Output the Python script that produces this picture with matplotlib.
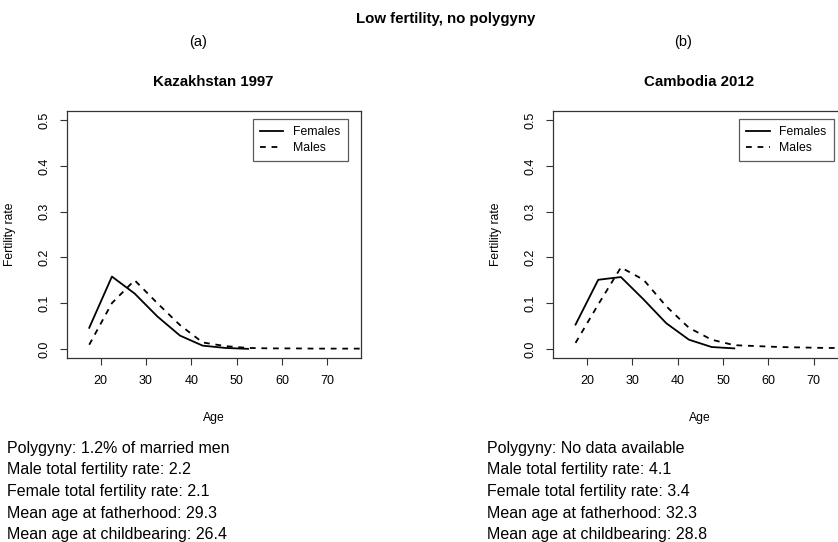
import matplotlib
matplotlib.use("Agg")
import matplotlib.pyplot as plt
from matplotlib.lines import Line2D

plt.rcParams["font.family"] = ["Liberation Sans", "DejaVu Sans"]

# age-group midpoints
ages = [17.5, 22.5, 27.5, 32.5, 37.5, 42.5, 47.5, 52.5, 57.5, 62.5, 67.5, 72.5, 77.5]

kaz_female = [0.046, 0.158, 0.121, 0.071, 0.029, 0.007, 0.002, 0.0]
kaz_male = [0.009, 0.100, 0.150, 0.100, 0.052, 0.014, 0.006, 0.002,
            0.001, 0.001, 0.0005, 0.0005, 0.0005]

cam_female = [0.053, 0.151, 0.157, 0.108, 0.056, 0.020, 0.004, 0.001]
cam_male = [0.013, 0.097, 0.178, 0.151, 0.093, 0.046, 0.020, 0.008,
            0.006, 0.004, 0.003, 0.002, 0.002]

titles = ["Kazakhstan 1997", "Cambodia 2012"]
labels = ["(a)", "(b)"]
stats = [
    ["Polygyny: 1.2% of married men",
     "Male total fertility rate: 2.2",
     "Female total fertility rate: 2.1",
     "Mean age at fatherhood: 29.3",
     "Mean age at childbearing: 26.4"],
    ["Polygyny: No data available",
     "Male total fertility rate: 4.1",
     "Female total fertility rate: 3.4",
     "Mean age at fatherhood: 32.3",
     "Mean age at childbearing: 28.8"],
]

W, H = 838, 542
fig = plt.figure(figsize=(W / 100, H / 100), dpi=100)


def px(x, y):
    # pixel position (from top left) -> figure fraction
    return x / W, 1 - y / H


ax_w, ax_h = 294 / W, 247 / H
lefts = [67, 553.3]
title_x = [213, 699]
label_x = [198, 683]
text_x = [7, 487]
fems = [kaz_female, cam_female]
mals = [kaz_male, cam_male]
dash = (0, (3.2, 3.2))

fig.text(*px(446, 23.5), "Low fertility, no polygyny", ha="center",
         va="baseline", fontsize=10.8, fontweight="bold")

for i in range(2):
    ax = fig.add_axes([lefts[i] / W, 1 - 358 / H, ax_w, ax_h])
    ax.plot(ages[:len(fems[i])], fems[i], color="black", lw=1.3)
    ax.plot(ages, mals[i], color="black", lw=1.3, linestyle=dash)
    ax.set_xlim(12.6, 77.4)
    ax.set_ylim(-0.02, 0.52)
    ax.set_xticks([20, 30, 40, 50, 60, 70])
    ax.set_yticks([0.0, 0.1, 0.2, 0.3, 0.4, 0.5])
    ax.set_yticklabels(["0.0", "0.1", "0.2", "0.3", "0.4", "0.5"],
                       rotation=90, va="center")
    ax.tick_params(length=5, width=0.8, color="#333333", labelsize=9, pad=7)
    for s in ax.spines.values():
        s.set_color("#333333")
        s.set_linewidth(0.9)
    ax.set_xlabel("Age", fontsize=8.7)
    ax.set_ylabel("Fertility rate", fontsize=8.7)
    ax.xaxis.set_label_coords(0.5, -0.219)
    ax.yaxis.set_label_coords(-0.175, 0.5)

    handles = [Line2D([], [], color="black", lw=1.3),
               Line2D([], [], color="black", lw=1.3, linestyle=dash)]
    leg = ax.legend(handles, ["Females", "Males"], loc="upper right",
                    bbox_to_anchor=(0.955, 0.968), borderaxespad=0,
                    fontsize=8.8, frameon=True, fancybox=False,
                    handlelength=1.9, handletextpad=0.8, labelspacing=0.3,
                    borderpad=0.6)
    leg.get_frame().set_edgecolor("#333333")
    leg.get_frame().set_linewidth(0.9)

    fig.text(*px(title_x[i], 86.3), titles[i], ha="center", va="baseline",
             fontsize=10.8, fontweight="bold")
    fig.text(*px(label_x[i], 46), labels[i], ha="center", va="baseline",
             fontsize=10.5)
    for j, line in enumerate(stats[i]):
        fig.text(*px(text_x[i], 452.7 + 21.7 * j), line, ha="left",
                 va="baseline", fontsize=11.5)

fig.savefig("out.png", dpi=100)
